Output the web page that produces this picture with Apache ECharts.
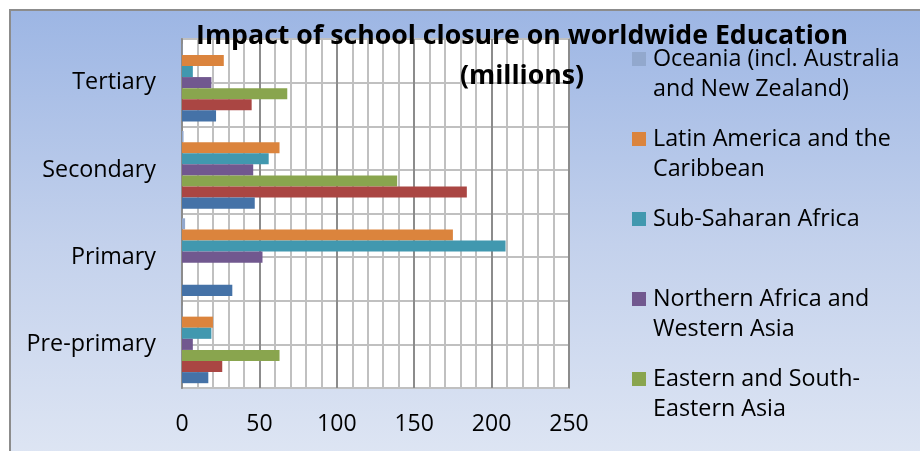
<!DOCTYPE html>
<html>
<head>
<meta charset="utf-8">
<script src="https://cdn.jsdelivr.net/npm/echarts@6/dist/echarts.min.js"></script>
<style>
  html, body { margin: 0; padding: 0; background: #fff; }
  #wrap { position: relative; width: 920px; height: 451px; overflow: hidden; background: #fff; }
  #frame { position: absolute; left: 9px; top: 9px; width: 940px; height: 470px;
           border: 2px solid #8c8c8c; box-sizing: border-box;
           background: linear-gradient(to bottom, #9db6e4 0%, #c3d1ec 50%, #e0e7f4 100%); }
  #chart { position: absolute; left: 0; top: 0; width: 920px; height: 451px; }
</style>
</head>
<body>
<div id="wrap">
  <div id="frame"></div>
  <div id="chart"></div>
</div>
<script>
// ---- data ----
const categories = ['Pre-primary', 'Primary', 'Secondary', 'Tertiary'];
// listed top-to-bottom within each category group
const seriesNames = [
  'Oceania (incl. Australia and New Zealand)',
  'Latin America and the Caribbean',
  'Sub-Saharan Africa',
  'Northern Africa and Western Asia',
  'Eastern and South-Eastern Asia',
  'Central and Southern Asia',
  'Europe and Northern America'
];
const oceania              = [0.2, 2, 1, 0.2];
const latinAmerica         = [20, 175, 63, 27];
const subSaharanAfrica     = [19, 209, 56, 7];
const northAfricaWestAsia  = [7, 52, 46, 19];
const easternSouthEastAsia = [63, null, 139, 68];
const centralSouthernAsia  = [26, null, 184, 45];
const europeNorthAmerica   = [17, 32.5, 47, 22];
const xTicks = [0, 50, 100, 150, 200, 250];
const legendShown = [
  'Oceania (incl. Australia and New Zealand)',
  'Latin America and the Caribbean',
  'Sub-Saharan Africa',
  'Northern Africa and Western Asia',
  'Eastern and South-Eastern Asia'
];
const legendLabels = {
  'Oceania (incl. Australia and New Zealand)': 'Oceania (incl. Australia\nand New Zealand)',
  'Latin America and the Caribbean': 'Latin America and the\nCaribbean',
  'Sub-Saharan Africa': 'Sub-Saharan Africa\n ',
  'Northern Africa and Western Asia': 'Northern Africa and\nWestern Asia',
  'Eastern and South-Eastern Asia': 'Eastern and South-\nEastern Asia'
};
const colors = ['#92A8CD', '#DB843D', '#4198AF', '#71588F', '#89A54E', '#AA4643', '#4572A7'];
const values = [oceania, latinAmerica, subSaharanAfrica, northAfricaWestAsia,
                easternSouthEastAsia, centralSouthernAsia, europeNorthAmerica];

const FONT = 'Open Sans';
const chart = echarts.init(document.getElementById('chart'), null, { renderer: 'canvas' });
chart.setOption({
  backgroundColor: 'transparent',
  animation: false,
  color: colors,
  title: {
    text: 'Impact of school closure on worldwide Education\n(millions)',
    left: 517,
    top: 11,
    textAlign: 'center',
    textStyle: { fontFamily: FONT, fontWeight: 'bold', fontSize: 26.7, lineHeight: 40, color: '#000' }
  },
  legend: {
    orient: 'vertical',
    left: 627,
    top: 9,
    itemWidth: 14,
    itemHeight: 14,
    itemGap: -10,
    icon: 'rect',
    data: legendShown,
    formatter: function (n) { return '\n' + legendLabels[n]; },
    textStyle: { fontFamily: FONT, fontSize: 23.3, lineHeight: 30, color: '#000', padding: [0, 0, 0, 2] }
  },
  grid: {
    left: 182, top: 39, width: 387, height: 349,
    show: true, backgroundColor: '#fff', borderColor: '#b0b0b0', borderWidth: 2
  },
  xAxis: {
    type: 'value', min: 0, max: 250, interval: 50,
    axisLine: { show: false }, axisTick: { show: false },
    axisLabel: { margin: 25, fontFamily: FONT, fontSize: 23, color: '#000',
                 formatter: function (v) { return xTicks.indexOf(v) >= 0 ? String(v) : ''; } },
    splitLine: { show: true, lineStyle: { color: '#8c8c8c', width: 2 } },
    minorTick: { show: false, splitNumber: 5 },
    minorSplitLine: { show: true, lineStyle: { color: '#c0c0c0', width: 2 } }
  },
  yAxis: [
    {
      type: 'category', data: categories,
      axisLine: { show: true, lineStyle: { color: '#8c8c8c', width: 2 } },
      axisTick: { show: false },
      splitLine: { show: false },
      axisLabel: { margin: 26, fontFamily: FONT, fontSize: 23.3, color: '#000' }
    },
    {
      type: 'value', min: 0, max: 8, interval: 1, position: 'right',
      axisLine: { show: false }, axisTick: { show: false }, axisLabel: { show: false },
      splitLine: { show: true, lineStyle: { color: '#c0c0c0', width: 2 } }
    }
  ],
  series: seriesNames.map(function (name, i) {
    return {
      name: name, type: 'bar', yAxisIndex: 0, data: values[i],
      barGap: '0%', barCategoryGap: '11%',
      itemStyle: { color: colors[i] }
    };
  })
});
</script>
</body>
</html>
